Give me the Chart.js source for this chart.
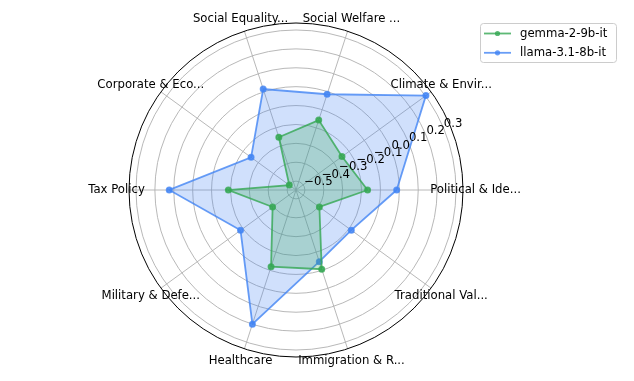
<!DOCTYPE html>
<html><head><meta charset="utf-8">
<script src="https://cdn.jsdelivr.net/npm/chart.js@4/dist/chart.umd.min.js"></script>
<style>html,body{margin:0;padding:0;background:#fff;overflow:hidden;}</style>
</head><body>
<canvas id="c" width="634" height="381"></canvas>
<script>
// Categories in the reference's counter-clockwise order, starting at the right (east)
const categories = ["Political & Ide...", "Climate & Envir...", "Social Welfare ...", "Social Equality...", "Corporate & Eco...", "Tax Policy", "Military & Defe...", "Healthcare", "Immigration & R...", "Traditional Val..."];
const seriesNames = ["gemma-2-9b-it", "llama-3.1-8b-it"];
const gemmaValues = [-0.168, -0.246, -0.158, -0.253, -0.503, -0.189, -0.394, -0.120, -0.106, -0.394];
const llamaValues = [-0.014, 0.303, -0.014, 0.015, -0.253, 0.124, -0.184, 0.200, -0.148, -0.185];
const rTickValues = [-0.5, -0.4, -0.3, -0.2, -0.1, 0.0, 0.1, 0.2, 0.3];
const rTickLabels = ["\u22120.5", "\u22120.4", "\u22120.3", "\u22120.2", "\u22120.1", "0.0", "0.1", "0.2", "0.3"];
const rMin = -0.547, rMax = 0.337;

// Chart.js goes clockwise; reorder so the visual order matches the reference
const order = [0, 9, 8, 7, 6, 5, 4, 3, 2, 1];
const FONT = '11.7px "DejaVu Sans"';
const greenLine = 'rgba(52,168,83,0.8)', greenFill = 'rgba(52,168,83,0.25)';
const blueLine = 'rgba(66,133,244,0.8)', blueFill = 'rgba(66,133,244,0.25)';

const overlay = {
  id: 'overlay',
  afterDatasetsDraw(chart) {
    const s = chart.scales.r, ctx = chart.ctx;
    ctx.save();
    // outer spine
    ctx.beginPath();
    ctx.arc(s.xCenter, s.yCenter, s.drawingArea, 0, Math.PI * 2);
    ctx.strokeStyle = '#000'; ctx.lineWidth = 1; ctx.stroke();
    // category labels
    ctx.font = FONT; ctx.fillStyle = '#000';
    ctx.textAlign = 'center'; ctx.textBaseline = 'middle';
    chart.data.labels.forEach((lab, i) => {
      const p = s.getPointPosition(i, s.drawingArea + 12.5);
      ctx.fillText(lab, p.x, p.y);
    });
    // radial tick labels at 22.5 deg
    const a = 22.5 * Math.PI / 180;
    ctx.textAlign = 'left'; ctx.textBaseline = 'bottom';
    rTickValues.forEach((v, i) => {
      const r = s.getDistanceFromCenterForValue(v);
      ctx.fillText(rTickLabels[i], s.xCenter + r * Math.cos(a), s.yCenter - r * Math.sin(a) + 1);
    });
    // legend
    const lx = 480.5, ly = 23.5, lw = 136, lh = 39, rad = 3;
    ctx.beginPath();
    ctx.moveTo(lx + rad, ly);
    ctx.arcTo(lx + lw, ly, lx + lw, ly + lh, rad);
    ctx.arcTo(lx + lw, ly + lh, lx, ly + lh, rad);
    ctx.arcTo(lx, ly + lh, lx, ly, rad);
    ctx.arcTo(lx, ly, lx + lw, ly, rad);
    ctx.closePath();
    ctx.fillStyle = 'rgba(255,255,255,0.8)'; ctx.fill();
    ctx.strokeStyle = '#cccccc'; ctx.lineWidth = 1; ctx.stroke();
    chart.data.datasets.forEach((ds, i) => {
      const y = 33.5 + i * 19.3;
      ctx.strokeStyle = ds.borderColor; ctx.lineWidth = 1.8;
      ctx.beginPath(); ctx.moveTo(484, y); ctx.lineTo(511, y); ctx.stroke();
      ctx.fillStyle = ds.borderColor;
      ctx.beginPath(); ctx.arc(497.5, y, 2.6, 0, Math.PI * 2); ctx.fill();
      ctx.fillStyle = '#000'; ctx.textAlign = 'left'; ctx.textBaseline = 'middle';
      ctx.fillText(ds.label, 520, y);
    });
    ctx.restore();
  }
};

new Chart(document.getElementById('c'), {
  type: 'radar',
  data: {
    labels: order.map(i => categories[i]),
    datasets: [
      { label: seriesNames[0], data: order.map(i => gemmaValues[i]), borderColor: greenLine, backgroundColor: greenFill,
        pointBackgroundColor: greenLine, pointBorderColor: greenLine, pointRadius: 2.6, borderWidth: 1.8, fill: 'start' },
      { label: seriesNames[1], data: order.map(i => llamaValues[i]), borderColor: blueLine, backgroundColor: blueFill,
        pointBackgroundColor: blueLine, pointBorderColor: blueLine, pointRadius: 2.6, borderWidth: 1.8, fill: 'start' }
    ]
  },
  options: {
    responsive: false, animation: false, devicePixelRatio: 1,
    layout: { padding: { left: 129, right: 171, top: 23, bottom: 24 } },
    plugins: { legend: { display: false }, tooltip: { enabled: false } },
    elements: { line: { tension: 0 } },
    scales: {
      r: {
        min: rMin, max: rMax, startAngle: 90,
        ticks: { display: false, stepSize: 0.1 },
        afterBuildTicks: (scale) => { scale.ticks = rTickValues.map(v => ({ value: v })); },
        grid: { circular: true, color: '#b0b0b0', lineWidth: 0.9 },
        angleLines: { display: true, color: '#b0b0b0', lineWidth: 0.9 },
        pointLabels: { display: false }
      }
    }
  },
  plugins: [overlay]
});
</script>
</body></html>
